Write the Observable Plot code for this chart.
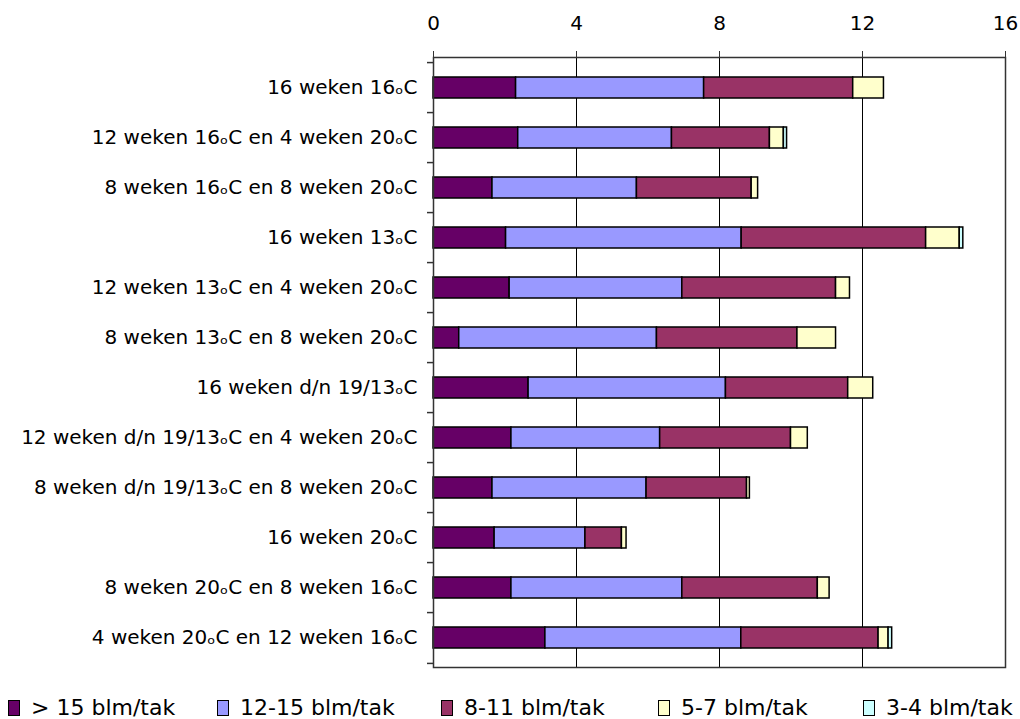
<!DOCTYPE html>
<html>
<head>
<meta charset="utf-8">
<script src="https://cdn.jsdelivr.net/npm/d3@7"></script>
<script src="https://cdn.jsdelivr.net/npm/@observablehq/plot@0.6"></script>
<style>
  html, body { margin: 0; padding: 0; background: #fff; }
  #wrap { position: relative; width: 1020px; height: 719px; overflow: hidden; }
  #legend { position: absolute; left: 0; top: 697px; width: 1020px; height: 22px;
            font-family: "DejaVu Sans", sans-serif; font-size: 22px; line-height: 22px; color: #000; }
  .item { position: absolute; top: 0; display: flex; align-items: center; white-space: nowrap; }
  .sw { width: 10px; height: 14px; border: 1px solid #000; margin-right: 11px; }
</style>
</head>
<body>
<div id="wrap"><div id="chart"></div><div id="legend"></div></div>
<script>
const categories = [
  "16 weken 16ₒC",
  "12 weken 16ₒC en 4 weken 20ₒC",
  "8 weken 16ₒC en 8 weken 20ₒC",
  "16 weken 13ₒC",
  "12 weken 13ₒC en 4 weken 20ₒC",
  "8 weken 13ₒC en 8 weken 20ₒC",
  "16 weken d/n 19/13ₒC",
  "12 weken d/n 19/13ₒC en 4 weken 20ₒC",
  "8 weken d/n 19/13ₒC en 8 weken 20ₒC",
  "16 weken 20ₒC",
  "8 weken 20ₒC en 8 weken 16ₒC",
  "4 weken 20ₒC en 12 weken 16ₒC"
];
const series = ["> 15 blm/tak", "12-15 blm/tak", "8-11 blm/tak", "5-7 blm/tak", "3-4 blm/tak"];
const colors = ["#660066", "#9999FF", "#993366", "#FFFFCC", "#CCFFFF"];
const gt15   = [2.31, 2.37, 1.65, 2.03, 2.13, 0.72, 2.66, 2.18, 1.65, 1.71, 2.18, 3.13];
const s12_15 = [5.26, 4.30, 4.04, 6.59, 4.83, 5.53, 5.52, 4.16, 4.31, 2.54, 4.78, 5.48];
const s8_11  = [4.17, 2.74, 3.21, 5.16, 4.30, 3.93, 3.42, 3.66, 2.81, 1.02, 3.79, 3.84];
const s5_7   = [0.86, 0.39, 0.18, 0.94, 0.39, 1.08, 0.70, 0.47, 0.08, 0.13, 0.33, 0.28];
const s3_4   = [0.00, 0.09, 0.00, 0.10, 0.00, 0.00, 0.00, 0.00, 0.00, 0.00, 0.00, 0.10];
const xTicks = [0, 4, 8, 12, 16];

const seriesValues = [gt15, s12_15, s8_11, s5_7, s3_4];
const data = [];
categories.forEach((c, i) => {
  series.forEach((s, j) => {
    const v = seriesValues[j][i];
    if (v > 0) data.push({cat: c, series: s, value: v});
  });
});

const W = 1020, H = 680, mt = 57, mb = 13, ml = 433, mr = 15;
const step = (H - mt - mb) / categories.length;

const plot = Plot.plot({
  width: W, height: H,
  marginTop: mt, marginBottom: mb, marginLeft: ml, marginRight: mr,
  style: {fontFamily: "DejaVu Sans, sans-serif", fontSize: "20px", color: "#000", background: "#fff"},
  x: {domain: [0, 16]},
  y: {domain: categories, paddingInner: 0.587, paddingOuter: 0.2935},
  color: {domain: series, range: colors},
  marks: [
    Plot.ruleX(xTicks.slice(1), {stroke: "#000", strokeWidth: 1}),
    Plot.barX(data, {y: "cat", x: "value", fill: "series", stroke: "#000", strokeWidth: 1.5}),
    Plot.frame({stroke: "#333", strokeWidth: 1.5}),
    Plot.ruleY(categories, {y: d => d, x1: 0, x2: 0, insetLeft: -6, dy: -step / 2, stroke: "#333", strokeWidth: 1.5}),
    Plot.ruleY(categories.slice(-1), {y: d => d, x1: 0, x2: 0, insetLeft: -6, dy: step / 2, stroke: "#333", strokeWidth: 1.5}),
    Plot.axisX(xTicks, {anchor: "top", tickSize: 7, tickFormat: () => "", label: null, stroke: "#333"}),
    Plot.axisX(xTicks, {anchor: "top", tickSize: 0, tickPadding: 24, fontSize: 20, label: null, dy: -4}),
    Plot.axisY({anchor: "left", tickSize: 0, tickPadding: 16, fontSize: 20, label: null})
  ]
});
document.getElementById("chart").appendChild(plot);

const legendX = [8, 217, 441, 658, 863];
const legend = document.getElementById("legend");
series.forEach((s, j) => {
  const it = document.createElement("div");
  it.className = "item";
  it.style.left = legendX[j] + "px";
  const sw = document.createElement("div");
  sw.className = "sw";
  sw.style.background = colors[j];
  const t = document.createElement("span");
  t.textContent = s;
  it.appendChild(sw); it.appendChild(t);
  legend.appendChild(it);
});
</script>
</body>
</html>
